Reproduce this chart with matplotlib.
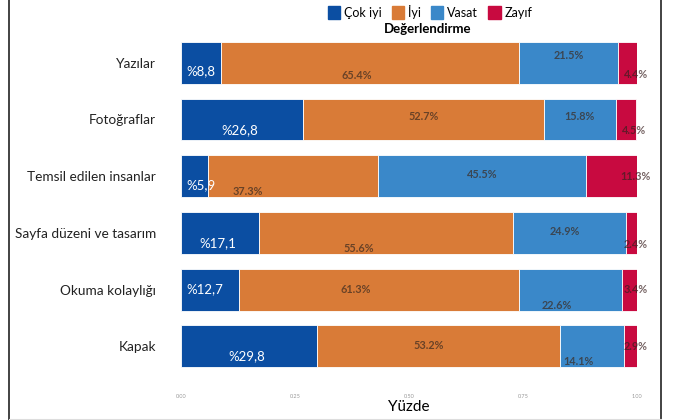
import matplotlib
matplotlib.use("Agg")
import matplotlib.pyplot as plt
from matplotlib.lines import Line2D
from matplotlib.patches import Patch

plt.rcParams['font.family'] = ['Lato', 'DejaVu Sans']

# data (percent)
categories = ["Yazılar", "Fotoğraflar", "Temsil edilen insanlar",
              "Sayfa düzeni ve tasarım", "Okuma kolaylığı", "Kapak"]
cok_iyi = [8.8, 26.8, 5.9, 17.1, 12.7, 29.8]
iyi = [65.4, 52.7, 37.3, 55.6, 61.3, 53.2]
vasat = [21.5, 15.8, 45.5, 24.9, 22.6, 14.1]
zayif = [4.4, 4.5, 11.3, 2.4, 3.4, 2.9]
series_names = ["Çok iyi", "İyi", "Vasat", "Zayıf"]
xticks = [0.0, 0.25, 0.5, 0.75, 1.0]

colors = ["#0b4ea2", "#d97b37", "#3a88c9", "#c80a40"]

fig = plt.figure(figsize=(6.75, 4.2), dpi=100)
ax = fig.add_axes([0.268, 0.108, 0.676, 0.81])

series = [cok_iyi, iyi, vasat, zayif]
y = list(range(len(categories)))
left = [0.0] * len(categories)
for s, vals in enumerate(series):
    fr = [v / 100 for v in vals]
    ax.barh(y, fr, left=left, height=0.74, color=colors[s],
            edgecolor="white", linewidth=0.6, label=series_names[s])
    for i in range(len(categories)):
        cx = left[i] + fr[i] / 2
        if s == 0:
            # the original labels are scattered a bit inside the bars
            if vals[i] > 15:
                ax.text(cx - 0.005, i + 0.18, "%" + f"{vals[i]:.1f}".replace(".", ","),
                        color="white", fontsize=9.5, ha="center", va="center")
            else:
                ax.text(left[i] + 0.012, i + (0.0 if i == 4 else 0.15),
                        "%" + f"{vals[i]:.1f}".replace(".", ","),
                        color="white", fontsize=9.5, ha="left", va="center")
        elif s == 3:
            ax.text(left[i] + fr[i] - 0.004, i + (0.2 if i in (0, 1, 3) else 0.0),
                    f"{vals[i]:.1f}%", color="#3a2020", fontsize=7.8,
                    fontweight="bold", ha="center", va="center", alpha=0.7)
        else:
            if s == 1:
                dy = [0.22, -0.05, 0.27, 0.27, 0.0, -0.02][i]
                dx = [-0.03, 0.0, -0.1, -0.06, -0.05, -0.02][i]
            else:
                dy = [-0.12, -0.05, -0.03, -0.02, 0.28, 0.27][i]
                dx = [0.0, 0.0, 0.0, -0.01, -0.03, -0.03][i]
            ax.text(cx + dx, i + dy, f"{vals[i]:.1f}%", color="#3a2a20",
                    fontsize=7.8, fontweight="bold", ha="center", va="center",
                    alpha=0.7)
    left = [left[i] + fr[i] for i in range(len(categories))]

ax.set_ylim(len(categories) - 0.5, -0.5)
ax.set_xlim(0, 1.0)
ax.set_yticks(y)
ax.set_yticklabels(categories, fontsize=9.8, color="#222222")
ax.set_xticks(xticks)
ax.set_xticklabels([f"{t:.2f}" for t in xticks], fontsize=4, color="#999999")
ax.tick_params(axis="y", length=0, pad=18)
ax.tick_params(axis="x", length=0, pad=14)
ax.set_xlabel("Yüzde", fontsize=11, labelpad=1)
for sp in ax.spines.values():
    sp.set_visible(False)

handles = [Patch(color=c) for c in colors]
fig.legend(handles, series_names, loc="center", bbox_to_anchor=(0.637, 0.972),
           ncol=4, frameon=False, fontsize=9, handlelength=1.0, handleheight=1.2,
           handletextpad=0.3, columnspacing=0.8, borderaxespad=0)
fig.text(0.634, 0.93, "Değerlendirme", fontsize=9.5, fontweight="bold",
         ha="center", va="center")

# page frame lines
fig.add_artist(Line2D([0.0135, 0.0135], [0, 1], color="#222222", lw=1.2))
fig.add_artist(Line2D([0.979, 0.979], [0, 1], color="#222222", lw=1.2))
fig.add_artist(Line2D([0.0135, 0.979], [0.003, 0.003], color="#dddddd", lw=0.8))

fig.savefig("out.png", dpi=100)
